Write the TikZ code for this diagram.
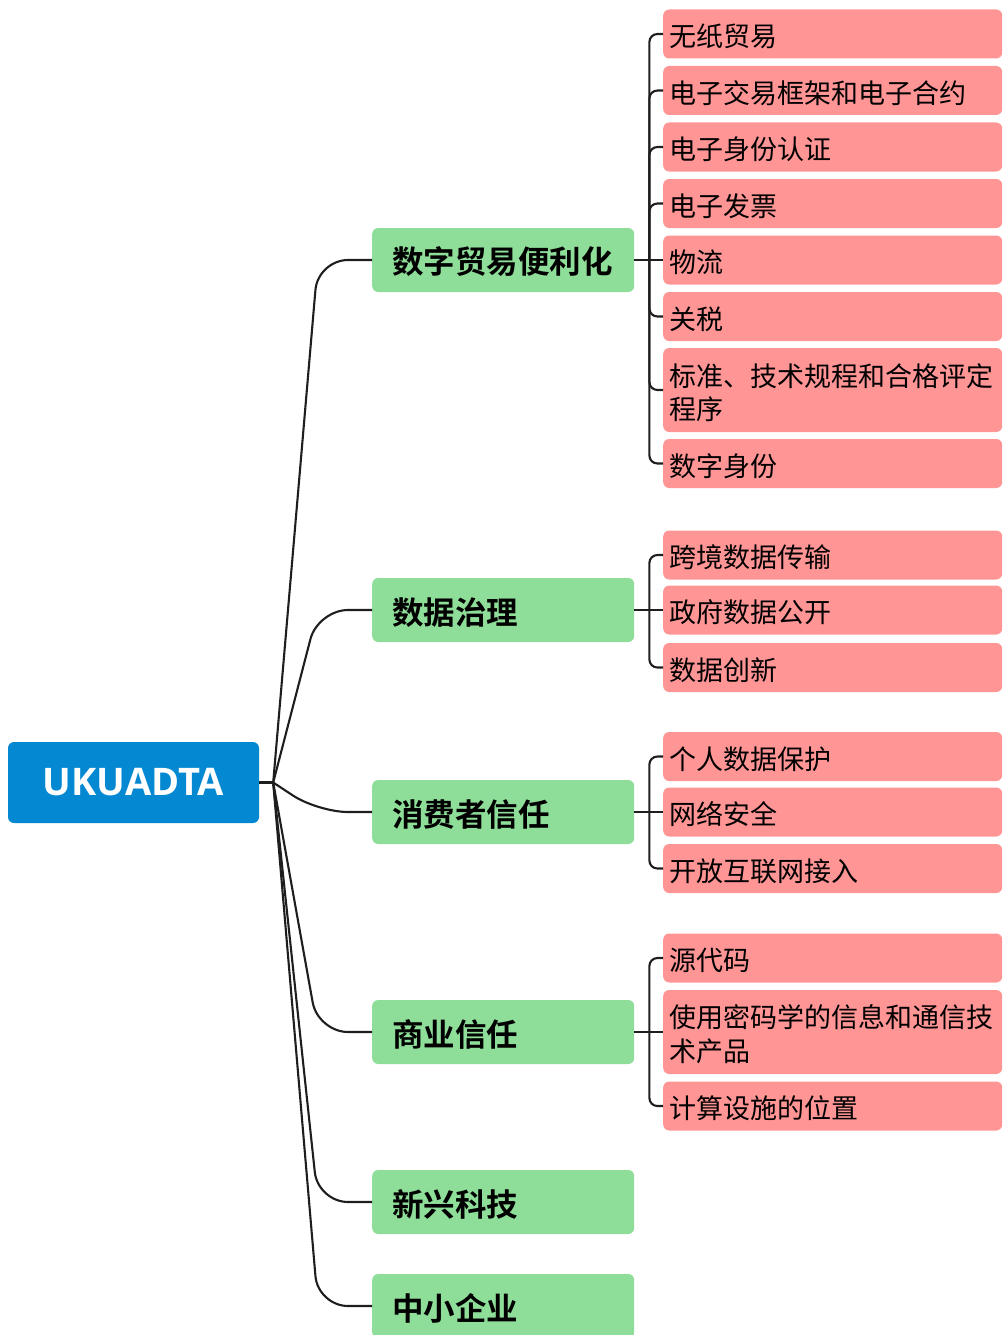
\documentclass[tikz,border=0pt]{standalone}
\usepackage{fontspec}
\newfontfamily\cjk[BoldFont={Noto Sans CJK SC Bold}]{Noto Sans CJK SC}
\newfontfamily\latin{Open Sans}
\usetikzlibrary{calc}
\definecolor{rootblue}{RGB}{4,136,210}
\definecolor{topicgreen}{RGB}{142,222,153}
\definecolor{leafpink}{RGB}{255,149,149}
\definecolor{linecol}{RGB}{30,30,30}
\tikzset{
  rootbox/.style={fill=rootblue, rounded corners=6, minimum width=251, minimum height=81,
    text=white, inner sep=0, font=\latin\bfseries\fontsize{38}{40}\selectfont},
  topicbox/.style={fill=topicgreen, rounded corners=6, minimum width=262, minimum height=64,
    anchor=west, text width=222, inner xsep=20, inner ysep=0, align=left, text height=31pt,
    font=\cjk\bfseries\fontsize{31.5}{36}\selectfont},
  leafbox/.style={fill=leafpink, rounded corners=6, minimum width=339, minimum height=49,
    anchor=west, text width=327, inner xsep=6, inner ysep=0, align=left, text height=27.8pt,
    font=\cjk\fontsize{27}{33.5}\selectfont},
  tallleaf/.style={leafbox, minimum height=84},
  conn/.style={draw=linecol, line width=2.1},
  rootconn/.style={conn, rounded corners=30},
  leafconn/.style={conn, rounded corners=8},
}
\begin{document}
\begin{tikzpicture}[x=1pt, y=-1pt]
\useasboundingbox (0,0) rectangle (1003,1335);

% root
\node[rootbox] (root) at (133.5,782.5) {UKUADTA};
\coordinate (J) at ($(root.east)+(14,0)$);

% topics
\node[topicbox] (g1) at (372,260) {数字贸易便利化};
\node[topicbox] (g2) at (372,610) {数据治理};
\node[topicbox] (g3) at (372,812) {消费者信任};
\node[topicbox] (g4) at (372,1032) {商业信任};
\node[topicbox] (g5) at (372,1202) {新兴科技};
\node[topicbox] (g6) at (372,1306) {中小企业};

% root connectors
\draw[conn] (root.east) -- (J);
\foreach \g in {g1,g2,g3,g4,g5,g6}{
  \draw[rootconn] (J) -- ($(\g.west)+(-54,0)$) -- (\g.west);
}

% leaves group 1
\node[leafbox] (a1) at (663,34) {无纸贸易};
\node[leafbox] (a2) at (663,90.5) {电子交易框架和电子合约};
\node[leafbox] (a3) at (663,147) {电子身份认证};
\node[leafbox] (a4) at (663,203.5) {电子发票};
\node[leafbox] (a5) at (663,260) {物流};
\node[leafbox] (a6) at (663,316.5) {关税};
\node[tallleaf] (a7) at (663,390) {标准、技术规程和合格评定\\程序};
\node[leafbox] (a8) at (663,463.5) {数字身份};

% leaves group 2
\node[leafbox] (b1) at (663,555) {跨境数据传输};
\node[leafbox] (b2) at (663,610) {政府数据公开};
\node[leafbox] (b3) at (663,667.5) {数据创新};

% leaves group 3
\node[leafbox] (c1) at (663,756.5) {个人数据保护};
\node[leafbox] (c2) at (663,812) {网络安全};
\node[leafbox] (c3) at (663,868.5) {开放互联网接入};

% leaves group 4
\node[leafbox] (d1) at (663,958) {源代码};
\node[tallleaf] (d2) at (663,1032) {使用密码学的信息和通信技\\术产品};
\node[leafbox] (d3) at (663,1106) {计算设施的位置};

% spines
\coordinate (s1) at ($(g1.east)+(15,0)$);
\coordinate (s2) at ($(g2.east)+(15,0)$);
\coordinate (s3) at ($(g3.east)+(15,0)$);
\coordinate (s4) at ($(g4.east)+(15,0)$);

\draw[conn] (g1.east) -- (a5.west);
\foreach \l in {a1,a2,a3,a4,a6,a7,a8}{ \draw[leafconn] (s1) |- (\l.west); }

\draw[conn] (g2.east) -- (b2.west);
\foreach \l in {b1,b3}{ \draw[leafconn] (s2) |- (\l.west); }

\draw[conn] (g3.east) -- (c2.west);
\foreach \l in {c1,c3}{ \draw[leafconn] (s3) |- (\l.west); }

\draw[conn] (g4.east) -- (d2.west);
\foreach \l in {d1,d3}{ \draw[leafconn] (s4) |- (\l.west); }
\end{tikzpicture}
\end{document}
